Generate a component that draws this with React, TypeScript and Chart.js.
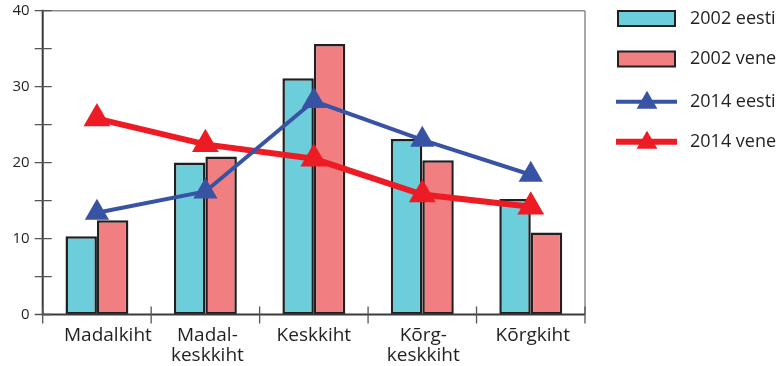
import React, { useEffect, useRef } from "react";
import { Chart, registerables } from "chart.js";

Chart.register(...registerables);

const categories: string[][] = [
  ["Madalkiht"],
  ["Madal-", "keskkiht"],
  ["Keskkiht"],
  ["Kõrg-", "keskkiht"],
  ["Kõrgkiht"],
];
const eesti2002 = [10.3, 20.0, 31.1, 23.1, 15.2];
const vene2002 = [12.4, 20.8, 35.6, 20.3, 10.8];
const eesti2014 = [13.4, 16.2, 28.1, 23.0, 18.4];
const vene2014 = [25.8, 22.4, 20.5, 15.8, 14.2];
const yMin = 0;
const yMax = 40;
const yStep = 5;
const yLabelStep = 10;

const seriesNames = ["2002 eesti", "2002 vene", "2014 eesti", "2014 vene"];

// style: horizontal nudge of each category label (px), as in the reference layout
const labelNudge = [11, 2, 0, 1, 2];

const C_BLUE_BAR = "#6ccddb";
const C_RED_BAR = "#f17f82";
const C_BLUE_LINE = "#3953a4";
const C_RED_LINE = "#ed1c24";
const C_OUTLINE = "#231f20";
const FONT = "'Open Sans', 'DejaVu Sans', sans-serif";

function tri(ctx: CanvasRenderingContext2D, x: number, y: number, r: number, color: string) {
  ctx.save();
  ctx.fillStyle = color;
  ctx.beginPath();
  for (let k = 0; k < 3; k++) {
    const a = (k * 2 * Math.PI) / 3;
    const px = x + Math.sin(a) * r;
    const py = y - Math.cos(a) * r;
    if (k === 0) ctx.moveTo(px, py);
    else ctx.lineTo(px, py);
  }
  ctx.closePath();
  ctx.fill();
  ctx.restore();
}

const framePlugin = {
  id: "frame",
  beforeDatasetsDraw(chart: any) {
    const { ctx, chartArea } = chart;
    const { left, right, top, bottom } = chartArea;
    ctx.save();
    ctx.strokeStyle = "#8c8c8c";
    ctx.lineWidth = 1.5;
    ctx.beginPath();
    ctx.moveTo(left, top);
    ctx.lineTo(right, top);
    ctx.moveTo(right, top);
    ctx.lineTo(right, bottom);
    ctx.stroke();
    ctx.restore();
  },
  afterDatasetsDraw(chart: any) {
    const { ctx, chartArea, scales } = chart;
    const { left, right, top, bottom } = chartArea;
    const y = scales.y;
    const x = scales.x;
    ctx.save();
    ctx.strokeStyle = "#3a3a3a";
    ctx.lineWidth = 2;
    ctx.beginPath();
    ctx.moveTo(left, top - 1);
    ctx.lineTo(left, bottom);
    ctx.lineTo(right, bottom);
    ctx.stroke();
    ctx.lineWidth = 1.3;
    ctx.strokeStyle = "#555";
    ctx.beginPath();
    for (let v = yMin; v <= yMax; v += yStep) {
      const py = y.getPixelForValue(v);
      ctx.moveTo(left - 8, py);
      ctx.lineTo(left + 9, py);
    }
    for (let i = 0; i <= categories.length; i++) {
      const px = x.getPixelForValue(i - 0.5);
      ctx.moveTo(px, bottom - 8);
      ctx.lineTo(px, bottom + 9);
    }
    ctx.stroke();
    ctx.fillStyle = "#231f20";
    ctx.font = `15px ${FONT}`;
    ctx.textAlign = "right";
    ctx.textBaseline = "middle";
    for (let v = yMin; v <= yMax; v += yLabelStep) {
      ctx.fillText(String(v), left - 13, y.getPixelForValue(v));
    }
    ctx.font = `19px ${FONT}`;
    ctx.textAlign = "center";
    ctx.textBaseline = "alphabetic";
    categories.forEach((lines, i) => {
      const cx = x.getPixelForValue(i) + labelNudge[i];
      lines.forEach((t, k) => ctx.fillText(t, cx, bottom + 26.5 + k * 20));
    });
    ctx.restore();
  },
  afterDraw(chart: any) {
    const { ctx, chartArea } = chart;
    const bx = chartArea.right + 33;
    const tx = chartArea.right + 105;
    const rows = [18.5, 59, 101.7, 141.7];
    ctx.save();
    [C_BLUE_BAR, C_RED_BAR].forEach((c, i) => {
      ctx.fillStyle = c;
      ctx.fillRect(bx, rows[i] - 7.5, 57, 15);
      ctx.strokeStyle = C_OUTLINE;
      ctx.lineWidth = 2;
      ctx.strokeRect(bx, rows[i] - 7.5, 57, 15);
    });
    [
      [C_BLUE_LINE, 4],
      [C_RED_LINE, 6],
    ].forEach(([c, w]: any, j) => {
      const ry = rows[j + 2];
      ctx.strokeStyle = c;
      ctx.lineWidth = w;
      ctx.beginPath();
      ctx.moveTo(bx - 2, ry);
      ctx.lineTo(bx + 59, ry);
      ctx.stroke();
      tri(ctx, bx + 29, ry + 1, 12, c);
    });
    ctx.fillStyle = "#231f20";
    ctx.font = `18px ${FONT}`;
    ctx.textBaseline = "middle";
    ctx.textAlign = "left";
    seriesNames.forEach((n, i) => ctx.fillText(n, tx, rows[i]));
    ctx.restore();
  },
};

export default function App() {
  const ref = useRef<HTMLCanvasElement>(null);
  useEffect(() => {
    if (!ref.current) return;
    const chart = new Chart(ref.current, {
      type: "bar",
      data: {
        labels: categories.map((l) => l.join(" ")),
        datasets: [
          {
            type: "line",
            label: seriesNames[2],
            data: eesti2014,
            borderColor: C_BLUE_LINE,
            backgroundColor: C_BLUE_LINE,
            borderWidth: 4,
            pointStyle: "triangle",
            pointRadius: 14,
            pointBorderWidth: 0,
            clip: false,
            order: 0,
          } as any,
          {
            type: "line",
            label: seriesNames[3],
            data: vene2014,
            borderColor: C_RED_LINE,
            backgroundColor: C_RED_LINE,
            borderWidth: 6,
            pointStyle: "triangle",
            pointRadius: 15.5,
            pointBorderWidth: 0,
            clip: false,
            order: 1,
          } as any,
          {
            label: seriesNames[0],
            data: eesti2002,
            backgroundColor: C_BLUE_BAR,
            borderColor: C_OUTLINE,
            borderWidth: 2.5,
            borderSkipped: false,
            categoryPercentage: 0.58,
            barPercentage: 1,
            order: 2,
          },
          {
            label: seriesNames[1],
            data: vene2002,
            backgroundColor: C_RED_BAR,
            borderColor: C_OUTLINE,
            borderWidth: 2.5,
            borderSkipped: false,
            categoryPercentage: 0.58,
            barPercentage: 1,
            order: 3,
          },
        ],
      },
      options: {
        responsive: false,
        animation: false,
        layout: { autoPadding: false, padding: { top: 10.7, right: 194, left: 42.7, bottom: 51.5 } },
        plugins: { legend: { display: false }, tooltip: { enabled: false } },
        scales: {
          x: { display: false },
          y: { display: false, min: yMin, max: yMax },
        },
      },
      plugins: [framePlugin],
    });
    return () => chart.destroy();
  }, []);
  return (
    <div style={{ position: "absolute", left: 0, top: 0, width: 779, height: 366, background: "#fff" }}>
      <canvas ref={ref} width={779} height={366} />
    </div>
  );
}
